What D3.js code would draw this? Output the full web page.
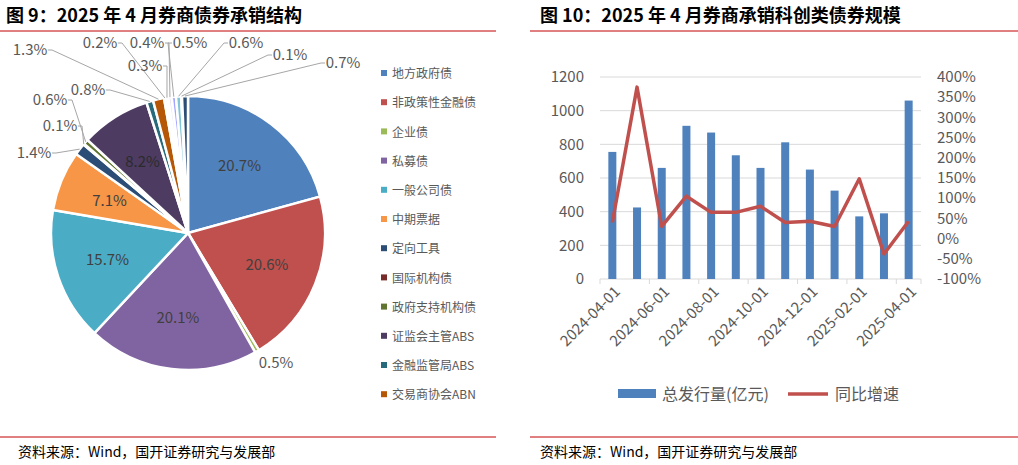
<!DOCTYPE html>
<html><head><meta charset="utf-8">
<script src="https://cdn.jsdelivr.net/npm/d3@7"></script>
<style>body{margin:0;background:#fff}svg{font-family:"Noto Sans CJK SC","Noto Sans",sans-serif}</style>
</head><body><svg id="c" width="1018" height="465"></svg>
<script>
// pie data (clockwise from top)
const pieNames = ['地方政府债','非政策性金融债','企业债','私募债','一般公司债','中期票据','定向工具','国际机构债','政府支持机构债','证监会主管ABS','金融监管局ABS','交易商协会ABN','其他1','其他2','其他3','其他4','其他5','其他6','其他7'];
const pieValues = [20.7,20.6,0.5,20.1,15.7,7.1,1.4,0.1,0.6,8.2,0.8,1.3,0.2,0.3,0.4,0.5,0.6,0.1,0.7];
const pieColors = ['#4f81bd','#c0504d','#9bbb59','#8064a2','#4bacc6','#f79646','#2c4d75','#772c2a','#5f7530','#4d3b62','#276a7c','#b65708','#d9d9d9','#f2f2f2','#e6e0ec','#a5a5ff','#7fc6d9','#95b3d7','#2c4d75'];
const legendCount = 12;

// bar / line data
const months = ['2024-04-01','2024-05-01','2024-06-01','2024-07-01','2024-08-01','2024-09-01','2024-10-01','2024-11-01','2024-12-01','2025-01-01','2025-02-01','2025-03-01','2025-04-01'];
const issueAmt = [755,425,660,910,870,735,660,812,650,525,372,390,1060];
const yoyGrowth = [40,375,30,105,65,65,80,40,43,30,148,-38,43];
const leftTicks = [0,200,400,600,800,1000,1200];
const rightTicks = [-100,-50,0,50,100,150,200,250,300,350,400];

const svg = d3.select('#c');
const grey = '#595959';

// titles and rules
svg.append('text').attr('x',6).attr('y',22).attr('font-size',18).attr('font-weight','bold').attr('fill','#000').text('图 9：2025 年 4 月券商债券承销结构');
svg.append('text').attr('x',540).attr('y',22).attr('font-size',18).attr('font-weight','bold').attr('fill','#000').text('图 10：2025 年 4 月券商承销科创类债券规模');
svg.append('line').attr('x1',0).attr('x2',496).attr('y1',31).attr('y2',31).attr('stroke','#c00000').attr('stroke-width',1);
svg.append('line').attr('x1',530).attr('x2',1018).attr('y1',31).attr('y2',31).attr('stroke','#c00000').attr('stroke-width',1);
svg.append('line').attr('x1',0).attr('x2',496).attr('y1',437).attr('y2',437).attr('stroke','#c00000');
svg.append('line').attr('x1',530).attr('x2',1018).attr('y1',437).attr('y2',437).attr('stroke','#c00000');
svg.append('text').attr('x',18).attr('y',457).attr('font-size',14).attr('fill','#000').text('资料来源：Wind，国开证券研究与发展部');
svg.append('text').attr('x',540).attr('y',457).attr('font-size',14).attr('fill','#000').text('资料来源：Wind，国开证券研究与发展部');

// pie
const cx = 188, cy = 233, R = 137;
const pie = d3.pie().sort(null).value(d => d)(pieValues);
const arc = d3.arc().innerRadius(0).outerRadius(R);
const g = svg.append('g').attr('transform',`translate(${cx},${cy})`);
g.selectAll('path').data(pie).join('path')
  .attr('d',arc)
  .attr('fill',(d,i)=>pieColors[i])
  .attr('stroke','#fff').attr('stroke-width',2.5);

// labels: big inside, small outside with leaders
const inLbl = d3.arc().innerRadius(R*0.62).outerRadius(R*0.62);
const bigIdx = [0,1,3,4,5,9];
g.selectAll('text.in').data(pie.filter((d,i)=>bigIdx.includes(i))).join('text')
  .attr('class','in')
  .attr('transform',d=>`translate(${inLbl.centroid(d)})`)
  .attr('text-anchor','middle').attr('dy','0.35em')
  .attr('font-size',15).attr('fill',d=>d.index===9?'#2b2b2b':'#404040')
  .text(d=>d.value.toFixed(1)+'%');
// outside label spots (text position relative to page)
const outLabels = [
  [2,276,368,'middle'],[6,34,158,'middle'],[7,60,131,'middle'],[8,50,105,'middle'],
  [10,88,95,'middle'],[11,30,55,'middle'],[12,100,48,'middle'],[13,145,71,'middle'],
  [14,147,48,'middle'],[15,190,48,'middle'],[16,246,48,'middle'],[17,290,60,'middle'],[18,343,68,'middle']
];
const edge = d3.arc().innerRadius(R).outerRadius(R);
outLabels.forEach(([i,x,y,a])=>{
  const p = edge.centroid(pie[i]);
  const px = p[0]+cx, py = p[1]+cy;
  if (i!==2) {
    const lx = x + (x<px ? 22 : -22), ly = y-5;
    svg.append('polyline').attr('points',`${px},${py} ${lx},${ly} ${lx + (x<px?-4:4)},${ly}`)
      .attr('fill','none').attr('stroke','#a6a6a6').attr('stroke-width',1);
  }
  svg.append('text').attr('x',x).attr('y',y).attr('text-anchor',a)
    .attr('font-size',15).attr('fill',grey).text(pieValues[i].toFixed(1)+'%');
});

// legend
const leg = svg.append('g').attr('transform','translate(381,74)');
pieNames.slice(0,legendCount).forEach((n,i)=>{
  leg.append('rect').attr('x',0).attr('y',i*29.2-4).attr('width',6).attr('height',6).attr('fill',pieColors[i]);
  leg.append('text').attr('x',11).attr('y',i*29.2).attr('dy','0.35em').attr('font-size',12).attr('fill',grey).text(n);
});

// combo chart
const x0 = 600, x1 = 921, yTop = 77, yBot = 279;
const x = d3.scaleBand().domain(months).range([x0,x1]);
const yL = d3.scaleLinear().domain([0,1200]).range([yBot,yTop]);
const yR = d3.scaleLinear().domain([-100,400]).range([yBot,yTop]);
leftTicks.forEach(t=>{
  if (t>0) svg.append('line').attr('x1',x0).attr('x2',x1).attr('y1',yL(t)).attr('y2',yL(t)).attr('stroke','#d9d9d9');
  svg.append('text').attr('x',584).attr('y',yL(t)).attr('dy','0.35em').attr('text-anchor','end').attr('font-size',15).attr('fill',grey).text(t);
});
rightTicks.forEach(t=>{
  svg.append('text').attr('x',937).attr('y',yR(t)).attr('dy','0.35em').attr('font-size',15).attr('fill',grey).text(t+'%');
});
svg.append('line').attr('x1',x0).attr('x2',x1).attr('y1',yBot).attr('y2',yBot).attr('stroke','#d9d9d9');
months.forEach((m,i)=>{
  if (i%2===0) {
    const tx = x(m);
    svg.append('line').attr('x1',tx).attr('x2',tx).attr('y1',yBot).attr('y2',yBot+5).attr('stroke','#d9d9d9');
    const cxm = x(m)+x.bandwidth()/2;
    svg.append('text').attr('transform',`translate(${cxm+5},${yBot+10}) rotate(-45)`)
      .attr('text-anchor','end').attr('dy','0.35em').attr('font-size',15).attr('fill',grey).text(m);
  }
});
svg.append('line').attr('x1',x1).attr('x2',x1).attr('y1',yBot).attr('y2',yBot+5).attr('stroke','#d9d9d9');
const bw = 8;
svg.selectAll('rect.bar').data(issueAmt).join('rect').attr('class','bar')
  .attr('x',(d,i)=>x(months[i])+x.bandwidth()/2-bw/2).attr('width',bw)
  .attr('y',d=>yL(d)).attr('height',d=>yBot-yL(d)).attr('fill','#4f81bd');
svg.append('path').datum(yoyGrowth)
  .attr('d',d3.line().x((d,i)=>x(months[i])+x.bandwidth()/2).y(d=>yR(d)))
  .attr('fill','none').attr('stroke','#c0504d').attr('stroke-width',3.5).attr('stroke-linejoin','round');

// bottom legend
svg.append('rect').attr('x',618).attr('y',389).attr('width',38).attr('height',9).attr('fill','#4f81bd');
svg.append('text').attr('x',662).attr('y',394).attr('dy','0.35em').attr('font-size',16).attr('fill',grey).text('总发行量(亿元)');
svg.append('line').attr('x1',788).attr('x2',828).attr('y1',394).attr('y2',394).attr('stroke','#c0504d').attr('stroke-width',3.5);
svg.append('text').attr('x',835).attr('y',394).attr('dy','0.35em').attr('font-size',16).attr('fill',grey).text('同比增速');
</script></body></html>
